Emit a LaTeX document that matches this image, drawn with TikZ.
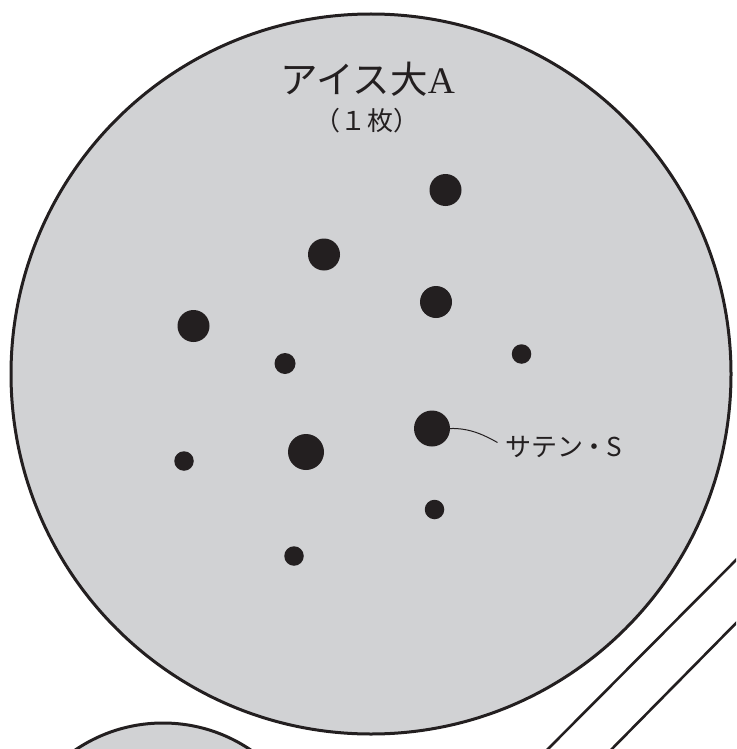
\documentclass[tikz,border=0pt]{standalone}
\usepackage{fontspec}
\setmainfont{Liberation Serif}
\newfontfamily\cjk{Noto Sans CJK JP}
\definecolor{plate}{HTML}{D1D2D4}
\definecolor{ink}{HTML}{231F20}
\begin{document}
\begin{tikzpicture}[x=1pt,y=-1pt,
  dotbig/.style={circle,fill=ink,inner sep=0pt,minimum size=32pt},
  dothuge/.style={circle,fill=ink,inner sep=0pt,minimum size=36pt},
  dotsmall/.style={circle,fill=ink,inner sep=0pt,minimum size=20pt},
  platefill/.style={fill=plate,draw=ink,line width=3pt},
  rim/.style={draw=ink,line width=2.6pt},
  lbl/.style={text=ink,inner sep=0pt}]
\useasboundingbox (0,0) rectangle (736,749);
\clip (0,0) rectangle (736,749);
% small plate at bottom-left
\path[platefill] (163,879) circle[radius=156];
% big plate
\path[platefill] (371,374) circle[radius=360];
% diagonal rim lines
\coordinate (r1a) at (746,550);
\coordinate (r1b) at (537,760);
\coordinate (r2a) at (746,613);
\coordinate (r2b) at (601,760);
\draw[rim] (r1a) -- (r1b);
\draw[rim] (r2a) -- (r2b);
% titles
\node[lbl,font=\fontsize{37.5}{42}\selectfont] (title) at (368,79) {\cjk アイス大\rmfamily A};
\node[lbl,font=\fontsize{26}{30}\selectfont] (count) at (367,121) {\cjk （\hspace{0.5pt}１\hspace{1pt}枚\hspace{0.5pt}）};
% dots
\node[dotbig] (d1) at (445.5,190) {};
\node[dotbig] (d2) at (324,254.5) {};
\node[dotbig] (d3) at (436,302) {};
\node[dotbig] (d4) at (193.5,326) {};
\node[dotsmall,minimum size=21pt] (d5) at (285,363.5) {};
\node[dotsmall,minimum size=19.5pt] (d6) at (521.5,354) {};
\node[dothuge] (d7) at (432,428.5) {};
\node[dothuge] (d8) at (306,452) {};
\node[dotsmall,minimum size=19.5pt] (d9) at (184,461) {};
\node[dotsmall,minimum size=19.5pt] (d10) at (434.5,509.5) {};
\node[dotsmall,minimum size=19.5pt] (d11) at (294,556) {};
% label
\node[lbl,anchor=west,font=\fontsize{26}{30}\selectfont] (sat) at (505,447) {\cjk サテン\hspace{-1.5pt}・\hspace{-1.5pt}S};
\coordinate (leadend) at (497.5,442.5);
\draw[ink,line width=1pt] (d7.east) .. controls (470,428) and (484,435) .. (leadend);
\end{tikzpicture}
\end{document}
